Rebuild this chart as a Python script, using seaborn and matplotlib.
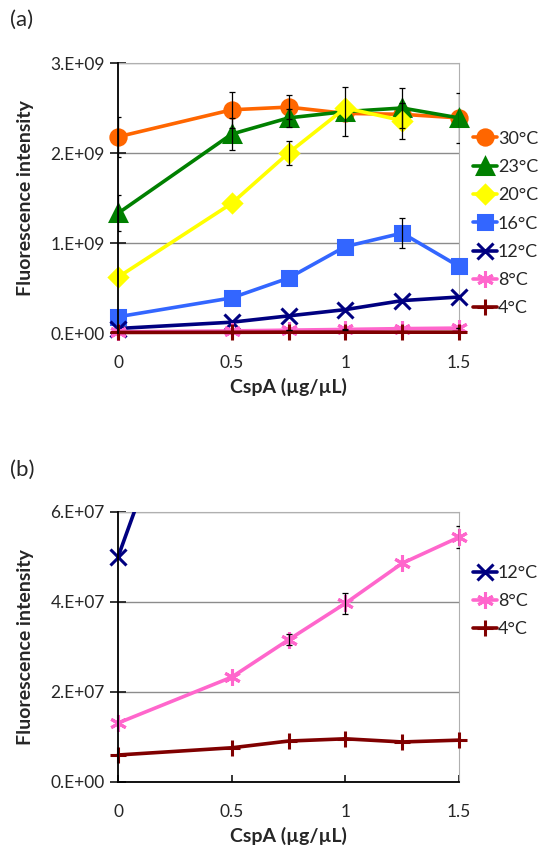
import numpy as np
import pandas as pd
import seaborn as sns
import matplotlib.pyplot as plt
from matplotlib.patches import Rectangle
from matplotlib.ticker import FixedLocator, FixedFormatter

sns.set_style("white")
plt.rcParams['font.family'] = ['Lato', 'DejaVu Sans']

# CspA concentration (ug/uL)
cspa = [0, 0.5, 0.75, 1, 1.25, 1.5]

labels = ["30°C", "23°C", "20°C", "16°C", "12°C", "8°C", "4°C"]

# fluorescence intensity
t30 = [2.18e9, 2.48e9, 2.51e9, 2.44e9, 2.43e9, 2.39e9]
t23 = [1.33e9, 2.21e9, 2.39e9, 2.46e9, 2.50e9, 2.39e9]
t20 = [0.62e9, 1.44e9, 2.00e9, 2.50e9, 2.36e9, np.nan]
t16 = [0.18e9, 0.39e9, 0.61e9, 0.96e9, 1.11e9, 0.74e9]
t12 = [0.050e9, 0.12e9, 0.19e9, 0.26e9, 0.36e9, 0.40e9]
t8 = [1.31e7, 2.33e7, 3.16e7, 3.97e7, 4.86e7, 5.44e7]
t4 = [0.60e7, 0.76e7, 0.91e7, 0.96e7, 0.89e7, 0.93e7]

# error bars (nan = none shown)
e30 = [0.22e9, 0.20e9, 0.13e9, np.nan, np.nan, np.nan]
e23 = [0.20e9, 0.18e9, 0.10e9, 0.27e9, 0.22e9, 0.28e9]
e20 = [np.nan, np.nan, 0.13e9, np.nan, 0.20e9, np.nan]
e16 = [np.nan, np.nan, np.nan, np.nan, 0.17e9, np.nan]
e8 = [np.nan, np.nan, 0.12e7, 0.24e7, np.nan, 0.24e7]

series = [t30, t23, t20, t16, t12, t8, t4]
errors = [e30, e23, e20, e16, None, e8, None]
colors = ["#FF6600", "#008000", "#FFFF00", "#3366FF", "#000080", "#FF66CC", "#800000"]
markers = ["o", "^", "D", "s", "x", (6, 2, 0), "+"]
msizes = [11, 11, 9, 10, 11, 12, 12]

fig = plt.figure(figsize=(5.51, 8.49), dpi=100)
W, H = 551, 849
ax_a = fig.add_axes([118 / W, 1 - 333 / H, 341 / W, 270 / H])
ax_b = fig.add_axes([118 / W, 1 - 782 / H, 341 / W, 270 / H])


def draw(ax, idx):
    # clip only above the plot area, so edge markers stay whole
    clip = Rectangle((-0.1, -0.1), 1.2, 1.1, transform=ax.transAxes, visible=False)
    ax.add_patch(clip)
    for i in idx:
        df = pd.DataFrame({"x": cspa, "y": series[i]}).dropna()
        sns.lineplot(data=df, x="x", y="y", ax=ax, color=colors[i], marker=markers[i],
                     markersize=msizes[i], markeredgecolor=colors[i], markeredgewidth=2.2,
                     linewidth=2.6, label=labels[i], zorder=3 + i)
        ax.lines[-1].set_clip_path(clip)
        if errors[i] is not None:
            ax.errorbar(cspa, series[i], yerr=errors[i], fmt="none", ecolor="black",
                        elinewidth=0.9, capsize=2, capthick=0.9, zorder=10)


def style(ax, ymax, ticks, ticklabels):
    ax.set_xlim(0, 1.5)
    ax.set_ylim(0, ymax)
    ax.yaxis.set_major_locator(FixedLocator(ticks))
    ax.yaxis.set_major_formatter(FixedFormatter(ticklabels))
    ax.set_xticks([0, 0.5, 1, 1.5])
    ax.set_xticklabels(["0", "0.5", "1", "1.5"])
    ax.grid(axis="y", color="#8c8c8c", linewidth=1)
    ax.set_axisbelow(True)
    for s in ["top", "right"]:
        ax.spines[s].set_color("#b0b0b0")
    for s in ["left", "bottom"]:
        ax.spines[s].set_color("black")
        ax.spines[s].set_linewidth(1.3)
    ax.spines["left"].set_zorder(20)
    ax.tick_params(axis="y", direction="inout", length=11, width=1.3, labelsize=12.5, left=True, pad=4)
    ax.tick_params(axis="x", direction="in", length=5, width=1.3, labelsize=12.5, bottom=True, pad=16)
    ax.set_xlabel("CspA (µg/µL)", fontsize=14, fontweight="bold", labelpad=5)
    ax.set_ylabel("Fluorescence intensity", fontsize=14, fontweight="bold", labelpad=12)


draw(ax_a, range(7))
style(ax_a, 3e9, [0, 1e9, 2e9, 3e9], ["0.E+00", "1.E+09", "2.E+09", "3.E+09"])
ax_a.legend(loc="center left", bbox_to_anchor=(1.0, 0.405), frameon=False, fontsize=13,
            handlelength=1.3, handletextpad=0.05, labelspacing=0.68, borderaxespad=0.4)

draw(ax_b, [4, 5, 6])
style(ax_b, 6e7, [0, 2e7, 4e7, 6e7], ["0.E+00", "2.E+07", "4.E+07", "6.E+07"])
ax_b.legend(loc="center left", bbox_to_anchor=(1.0, 0.67), frameon=False, fontsize=13,
            handlelength=1.3, handletextpad=0.05, labelspacing=0.68, borderaxespad=0.4)

fig.text(10 / W, 1 - 20 / H, "(a)", fontsize=16, va="center", ha="left")
fig.text(10 / W, 1 - 470 / H, "(b)", fontsize=16, va="center", ha="left")

fig.savefig("out.png", dpi=100)
